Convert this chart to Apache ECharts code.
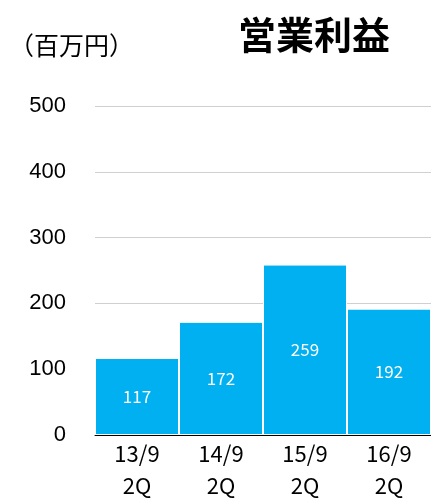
<!DOCTYPE html>
<html>
<head>
<meta charset="utf-8">
<script src="https://cdn.jsdelivr.net/npm/echarts@6/dist/echarts.min.js"></script>
<style>
  html, body { margin: 0; padding: 0; background: #fff; }
  #chart { width: 431px; height: 498px; }
</style>
</head>
<body>
<div id="chart"></div>
<script>
  var categories = ['13/9\n2Q', '14/9\n2Q', '15/9\n2Q', '16/9\n2Q'];
  var profit = [117, 172, 259, 192];
  var yTicks = [0, 100, 200, 300, 400, 500];

  var chart = echarts.init(document.getElementById('chart'));

  var option = {
    animation: false,
    title: [{
      text: '営業利益',
      left: 233,
      top: 11,
      textStyle: { fontFamily: 'Noto Sans CJK JP', fontSize: 38, fontWeight: 'bold', color: '#000' }
    }, {
      text: '（百万円）',
      left: 4,
      top: 28,
      textStyle: { fontFamily: 'Noto Sans CJK JP', fontSize: 25, fontWeight: 'normal', color: '#000' }
    }],
    grid: { left: 95, right: 0, top: 106, bottom: 63, containLabel: false, outerBoundsMode: 'none' },
    xAxis: {
      type: 'category',
      data: categories,
      axisLine: { lineStyle: { color: '#000', width: 1 } },
      axisTick: { show: false },
      axisLabel: {
        fontFamily: 'Noto Sans CJK JP',
        fontSize: 22,
        color: '#000',
        lineHeight: 32,
        margin: 3
      }
    },
    yAxis: {
      type: 'value',
      min: yTicks[0],
      max: yTicks[yTicks.length - 1],
      interval: 100,
      axisLine: { show: false },
      axisTick: { show: false },
      splitLine: { lineStyle: { color: '#d0d0d0', width: 1 } },
      axisLabel: {
        fontFamily: 'Liberation Sans',
        fontSize: 22,
        color: '#000',
        margin: 29
      }
    },
    series: [{
      type: 'bar',
      data: profit,
      barWidth: '100%',
      barCategoryGap: '0%',
      itemStyle: { color: '#00B0F0', borderColor: '#fff', borderWidth: 1 },
      label: {
        show: true,
        position: 'inside',
        color: '#fff',
        fontFamily: 'Noto Sans CJK JP',
        fontSize: 17
      }
    }]
  };

  chart.setOption(option);
</script>
</body>
</html>
